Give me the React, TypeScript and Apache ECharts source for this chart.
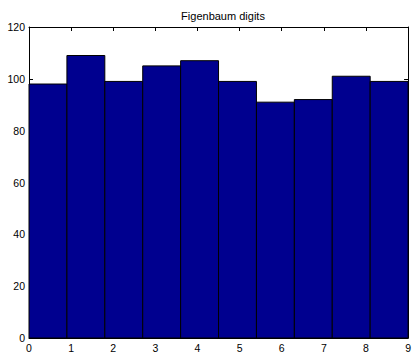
import React, { useEffect, useRef } from "react";
import * as echarts from "echarts";

const title = "Figenbaum digits";
const counts = [98, 109, 99, 105, 107, 99, 91, 92, 101, 99];
const xMin = 0;
const xMax = 9;
const yMax = 120;

export default function App() {
  const ref = useRef<HTMLDivElement>(null);
  useEffect(() => {
    const chart = echarts.init(ref.current!, undefined, { renderer: "svg" });
    const binW = (xMax - xMin) / counts.length;
    const data = counts.map((v, i) => [xMin + i * binW, xMin + (i + 1) * binW, v]);
    const font = "Liberation Sans, Arial, sans-serif";
    const axisBase = {
      type: "value" as const,
      axisLine: { show: true, onZero: false, lineStyle: { color: "#000", width: 1 } },
      axisTick: { show: true, inside: true, length: 4, lineStyle: { color: "#000" } },
      splitLine: { show: false },
    };
    chart.setOption({
      animation: false,
      backgroundColor: "#fff",
      title: {
        text: title,
        left: 218,
        textAlign: "center",
        top: 5,
        textStyle: { fontSize: 11, fontWeight: "normal", color: "#000", fontFamily: font },
      },
      grid: { left: 29, right: 3, top: 27, bottom: 16 },
      xAxis: [
        {
          ...axisBase,
          min: xMin,
          max: xMax,
          interval: 1,
          position: "bottom",
          axisLabel: { color: "#000", fontSize: 10.5, fontFamily: font, margin: 4 },
        },
        {
          ...axisBase,
          min: xMin,
          max: xMax,
          interval: 1,
          position: "top",
          axisLabel: { show: false },
        },
      ],
      yAxis: [
        {
          ...axisBase,
          min: 0,
          max: yMax,
          interval: 20,
          position: "left",
          axisLabel: { color: "#000", fontSize: 10.5, fontFamily: font, margin: 4 },
        },
        {
          ...axisBase,
          min: 0,
          max: yMax,
          interval: 20,
          position: "right",
          axisLabel: { show: false },
        },
      ],
      series: [
        {
          type: "custom",
          xAxisIndex: 0,
          yAxisIndex: 0,
          data,
          encode: { x: [0, 1], y: 2 },
          z: 1,
          renderItem: (params: any, api: any) => {
            const p0 = api.coord([api.value(0), 0]);
            const p1 = api.coord([api.value(1), api.value(2)]);
            return {
              type: "rect",
              shape: { x: p0[0], y: p1[1], width: p1[0] - p0[0], height: p0[1] - p1[1] },
              style: { fill: "#00008F", stroke: "#000", lineWidth: 1 },
            };
          },
        },
      ],
    });
    return () => chart.dispose();
  }, []);
  return <div ref={ref} style={{ width: 414, height: 354, position: "absolute", left: 0, top: 0 }} />;
}
